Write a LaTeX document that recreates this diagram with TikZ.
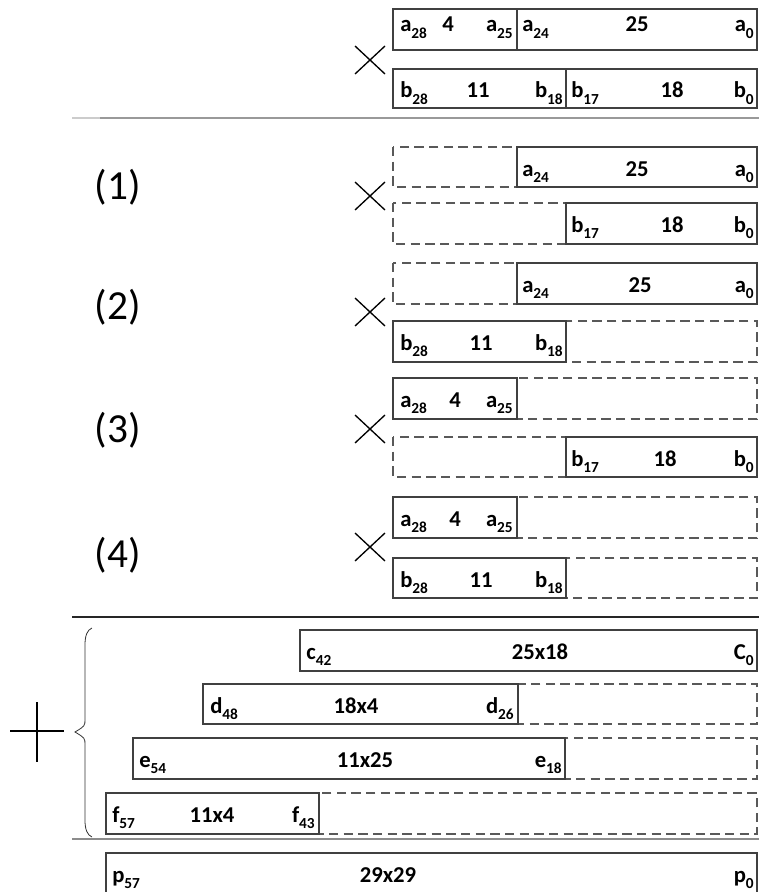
\documentclass[tikz,border=0pt]{standalone}
\usepackage{fontspec}
\setmainfont{Carlito}
\usepackage{xcolor}
\usepackage{tikz}

\newcommand{\idx}[1]{\raisebox{-0.3em}{\fontsize{11.5pt}{11.5pt}\selectfont #1}}

\begin{document}
\begin{tikzpicture}[x=0.75pt,y=0.75pt,yscale=-1,xscale=1,
    box/.style={draw=black!75,line width=0.9pt},
    dbox/.style={draw=black!65,line width=0.9pt,dash pattern=on 7pt off 4pt},
    lbl/.style={inner sep=0pt,font=\fontsize{17pt}{18pt}\selectfont\bfseries},
    casenum/.style={inner sep=0pt,font=\fontsize{31pt}{34pt}\selectfont},
    times/.style={line width=1pt}]
    \useasboundingbox (0,0) rectangle (759,892);

    %Shape: Cross [top]
    \draw [times] (355,46) -- (385,74) (355,74) -- (385,46) ;
    %Shape: Rectangle a
    \draw [box] (393,9) rectangle (757,50) (517,9) -- (517,50) ;
    %Shape: Rectangle b
    \draw [box] (393,69) rectangle (757,108) (566,69) -- (566,108) ;
    % Text Node
    \draw (400,32) node [lbl,anchor=base west] (ta28) {a\idx{28}};
    \draw (448,32) node [lbl,anchor=base] (ta4) {4};
    \draw (513,32) node [lbl,anchor=base east] (ta25) {a\idx{25}};
    \draw (522,32) node [lbl,anchor=base west] (ta24) {a\idx{24}};
    \draw (637,32) node [lbl,anchor=base] (ta25n) {25};
    \draw (754,32) node [lbl,anchor=base east] (ta0) {a\idx{0}};
    \draw (400,98) node [lbl,anchor=base west] (tb28) {b\idx{28}};
    \draw (478,98) node [lbl,anchor=base] (tb11) {11};
    \draw (563,98) node [lbl,anchor=base east] (tb18) {b\idx{18}};
    \draw (571,98) node [lbl,anchor=base west] (tb17) {b\idx{17}};
    \draw (672,98) node [lbl,anchor=base] (tb18n) {18};
    \draw (754,98) node [lbl,anchor=base east] (tb0) {b\idx{0}};

    %Straight Lines [separator]
    \draw [black!20,line width=1.4pt] (72,118) -- (100,118) ;
    \draw [black!40,line width=1.4pt] (100,118) -- (759,118) ;

    % ---- (1)
    \draw (118,187) node [casenum] (one) {(1)};
    \draw [times] (355,182) -- (385,210) (355,210) -- (385,182) ;
    \draw [dbox] (393,147) rectangle (757,187) ;
    \draw [box] (517,147) rectangle (757,187) ;
    \draw [dbox] (393,203) rectangle (757,244) ;
    \draw [box] (566,203) rectangle (757,244) ;
    \draw (522,176) node [lbl,anchor=base west] (oa24) {a\idx{24}};
    \draw (637,176) node [lbl,anchor=base] (oa25) {25};
    \draw (754,176) node [lbl,anchor=base east] (oa0) {a\idx{0}};
    \draw (571,232) node [lbl,anchor=base west] (ob17) {b\idx{17}};
    \draw (672,232) node [lbl,anchor=base] (ob18) {18};
    \draw (754,232) node [lbl,anchor=base east] (ob0) {b\idx{0}};

    % ---- (2)
    \draw (118,307) node [casenum] (two) {(2)};
    \draw [times] (355,298) -- (385,326) (355,326) -- (385,298) ;
    \draw [dbox] (393,263) rectangle (757,304) ;
    \draw [box] (517,263) rectangle (757,304) ;
    \draw [dbox] (393,321) rectangle (757,362) ;
    \draw [box] (393,321) rectangle (566,362) ;
    \draw (522,292) node [lbl,anchor=base west] (wa24) {a\idx{24}};
    \draw (640,292) node [lbl,anchor=base] (wa25) {25};
    \draw (754,292) node [lbl,anchor=base east] (wa0) {a\idx{0}};
    \draw (400,350) node [lbl,anchor=base west] (wb28) {b\idx{28}};
    \draw (481,350) node [lbl,anchor=base] (wb11) {11};
    \draw (563,350) node [lbl,anchor=base east] (wb18) {b\idx{18}};

    % ---- (3)
    \draw (118,430) node [casenum] (three) {(3)};
    \draw [times] (355,415) -- (385,443) (355,443) -- (385,415) ;
    \draw [dbox] (393,378) rectangle (757,419) ;
    \draw [box] (393,378) rectangle (517,419) ;
    \draw [dbox] (393,437) rectangle (757,477) ;
    \draw [box] (566,437) rectangle (757,477) ;
    \draw (400,407) node [lbl,anchor=base west] (ha28) {a\idx{28}};
    \draw (455,407) node [lbl,anchor=base] (ha4) {4};
    \draw (513,407) node [lbl,anchor=base east] (ha25) {a\idx{25}};
    \draw (571,466) node [lbl,anchor=base west] (hb17) {b\idx{17}};
    \draw (665,466) node [lbl,anchor=base] (hb18) {18};
    \draw (754,466) node [lbl,anchor=base east] (hb0) {b\idx{0}};

    % ---- (4)
    \draw (118,555) node [casenum] (four) {(4)};
    \draw [times] (355,533) -- (385,561) (355,561) -- (385,533) ;
    \draw [dbox] (393,497) rectangle (757,538) ;
    \draw [box] (393,497) rectangle (517,538) ;
    \draw [dbox] (393,558) rectangle (757,598) ;
    \draw [box] (393,558) rectangle (566,598) ;
    \draw (400,526) node [lbl,anchor=base west] (fa28) {a\idx{28}};
    \draw (455,526) node [lbl,anchor=base] (fa4) {4};
    \draw (513,526) node [lbl,anchor=base east] (fa25) {a\idx{25}};
    \draw (400,587) node [lbl,anchor=base west] (fb28) {b\idx{28}};
    \draw (481,587) node [lbl,anchor=base] (fb11) {11};
    \draw (563,587) node [lbl,anchor=base east] (fb18) {b\idx{18}};

    %Straight Lines [separator]
    \draw [black!85,line width=1pt] (72,617) -- (759,617) ;

    %Shape: Plus and Brace
    \draw [line width=1.2pt] (10,731) -- (64,731) (37,702) -- (37,762) ;
    \draw [black!80,line width=0.6pt] (92,628) .. controls (87,630) and (85,636) .. (85,645) -- (85,719) .. controls (85,726) .. (75,732) .. controls (85,738) .. (85,745) -- (85,820) .. controls (85,829) and (87,835) .. (92,837) ;

    %Shape: Rectangle c
    \draw [box] (300,630) rectangle (757,671) ;
    \draw (306,659) node [lbl,anchor=base west] (c42) {c\idx{42}};
    \draw (540,659) node [lbl,anchor=base] (cm) {25x18};
    \draw (754,659) node [lbl,anchor=base east] (c0) {C\idx{0}};
    %Shape: Rectangle d
    \draw [dbox] (203,684) rectangle (757,724) ;
    \draw [box] (203,684) rectangle (518,724) ;
    \draw (210,713) node [lbl,anchor=base west] (d48) {d\idx{48}};
    \draw (356,713) node [lbl,anchor=base] (dm) {18x4};
    \draw (514,713) node [lbl,anchor=base east] (d26) {d\idx{26}};
    %Shape: Rectangle e
    \draw [dbox] (133,738) rectangle (757,779) ;
    \draw [box] (133,738) rectangle (565,779) ;
    \draw (139,767) node [lbl,anchor=base west] (e54) {e\idx{54}};
    \draw (365,767) node [lbl,anchor=base] (em) {11x25};
    \draw (562,767) node [lbl,anchor=base east] (e18) {e\idx{18}};
    %Shape: Rectangle f
    \draw [dbox] (106,793) rectangle (757,834) ;
    \draw [box] (106,793) rectangle (319,834) ;
    \draw (112,822) node [lbl,anchor=base west] (f57) {f\idx{57}};
    \draw (212,822) node [lbl,anchor=base] (fm) {11x4};
    \draw (315,822) node [lbl,anchor=base east] (f43) {f\idx{43}};

    %Straight Lines [separator]
    \draw [black!45,line width=1.4pt] (72,839) -- (759,839) ;

    %Shape: Rectangle p
    \draw [box] (106,892) -- (106,853) -- (757,853) -- (757,892) ;
    \draw (112,882) node [lbl,anchor=base west] (p57) {p\idx{57}};
    \draw (388,882) node [lbl,anchor=base] (pm) {29x29};
    \draw (754,882) node [lbl,anchor=base east] (p0) {p\idx{0}};

\end{tikzpicture}
\end{document}
